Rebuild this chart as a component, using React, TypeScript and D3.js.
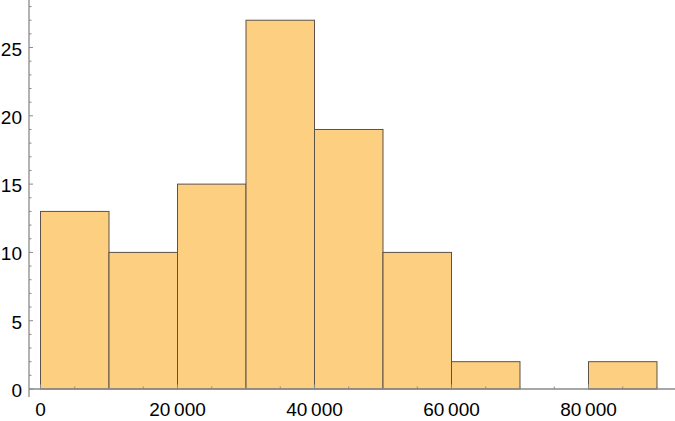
import React from "react";
import * as d3 from "d3";

const binStarts = [0, 10000, 20000, 30000, 40000, 50000, 60000, 70000, 80000];
const binWidth = 10000;
const counts = [13, 10, 15, 27, 19, 10, 2, 0, 2];
const xMajorTicks = [0, 20000, 40000, 60000, 80000];
const yMajorTicks = [0, 5, 10, 15, 20, 25];

const W = 675;
const H = 421;

export default function App() {
  const x = d3.scaleLinear().domain([-1680, 92630]).range([29, 675]);
  const y = d3.scaleLinear().domain([0, 28.48]).range([389, 0]);
  const xMinor = d3.range(0, 92000, 5000).filter((v) => !xMajorTicks.includes(v));
  const yMinor = d3.range(0, 29, 1).filter((v) => !yMajorTicks.includes(v));
  const fmt = (v: number) => {
    const s = String(v);
    return s.length > 4 ? s.slice(0, s.length - 3) + "\u2009" + s.slice(-3) : s;
  };
  const axisColor = "#8a8a8a";
  return (
    <svg width={W} height={H} style={{ position: "absolute", left: 0, top: 0, fontFamily: "'Liberation Sans', Arial, sans-serif" }}>
      <rect width={W} height={H} fill="#fff" />
      {binStarts.map((b, i) =>
        counts[i] > 0 ? (
          <rect
            key={i}
            x={x(b)}
            y={y(counts[i])}
            width={x(b + binWidth) - x(b)}
            height={y(0) - y(counts[i])}
            fill="#FDCF80"
            stroke="#5c5249"
            strokeWidth={1}
          />
        ) : null
      )}
      <line x1={29} x2={675} y1={y(0)} y2={y(0)} stroke={axisColor} strokeWidth={1.3} />
      <line x1={29} x2={29} y1={0} y2={397} stroke={axisColor} strokeWidth={1.3} />
      {xMajorTicks.map((v) => (
        <g key={"xm" + v}>
          <line x1={x(v)} x2={x(v)} y1={y(0)} y2={y(0) - 4.5} stroke={axisColor} />
          <text x={x(v)} y={416} textAnchor="middle" fontSize={19} fill="#000">
            {fmt(v)}
          </text>
        </g>
      ))}
      {xMinor.map((v) => (
        <line key={"xn" + v} x1={x(v)} x2={x(v)} y1={y(0)} y2={y(0) - 2.5} stroke={axisColor} />
      ))}
      {yMajorTicks.map((v) => (
        <g key={"ym" + v}>
          <line x1={29} x2={33} y1={y(v)} y2={y(v)} stroke={axisColor} />
          <text x={22} y={y(v) + 1.2} dy="0.36em" textAnchor="end" fontSize={19} fill="#000">
            {v}
          </text>
        </g>
      ))}
      {yMinor.map((v) => (
        <line key={"yn" + v} x1={29} x2={31.5} y1={y(v)} y2={y(v)} stroke={axisColor} />
      ))}
    </svg>
  );
}
